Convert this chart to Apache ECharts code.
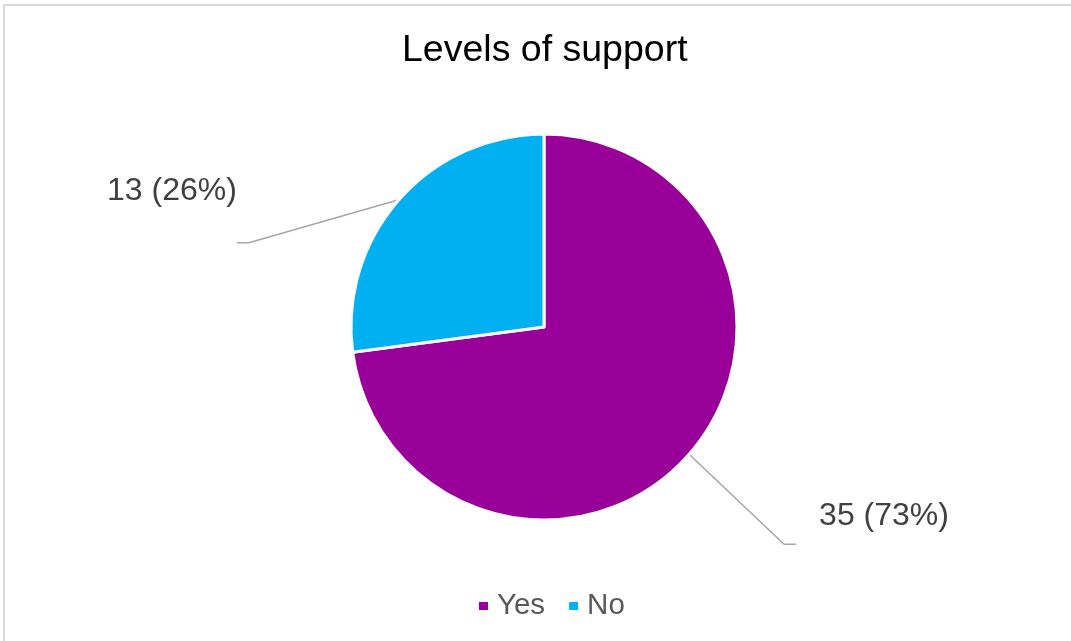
<!DOCTYPE html>
<html>
<head>
<meta charset="utf-8">
<title>Levels of support</title>
<script src="https://cdn.jsdelivr.net/npm/echarts@6/dist/echarts.min.js"></script>
<style>
  html, body { margin: 0; padding: 0; background: #ffffff; }
  #chart { width: 1071px; height: 641px; }
</style>
</head>
<body>
<div id="chart"></div>
<script>
// Survey answers
const categories = ['Yes', 'No'];
const counts = [35, 13];
const percentText = ['73%', '26%'];
const sliceColors = ['#990099', '#00B0F0'];

const FONT = '"Liberation Sans", Arial, sans-serif';

// Leader-line shape per slice: elbow offset from the slice edge, then a short horizontal run
const leader = [
  { elbow: [95, 90], run: 12, text: [23, -28], align: 'left' },
  { elbow: [-150, 43], run: -12, text: [0, -52], align: 'right' }
];

const chart = echarts.init(document.getElementById('chart'), null, { renderer: 'canvas' });

chart.setOption({
  backgroundColor: '#ffffff',
  animation: false,
  title: {
    text: 'Levels of support',
    left: 402,
    top: 32,
    padding: 0,
    textStyle: { fontFamily: FONT, fontSize: 37.5, fontWeight: 'normal', color: '#000000' }
  },
  legend: {
    bottom: 20,
    left: 477,
    padding: 0,
    icon: 'rect',
    itemWidth: 11,
    itemHeight: 10,
    itemGap: 22,
    data: categories,
    textStyle: { fontFamily: FONT, fontSize: 29.5, color: '#595959', padding: [0, 0, 0, 3] }
  },
  graphic: [{
    type: 'rect',
    silent: true,
    shape: { x: 4, y: 5, width: 1200, height: 800 },
    style: { fill: 'none', stroke: '#d9d9d9', lineWidth: 2 }
  }],
  series: [{
    type: 'pie',
    center: [544, 327],
    radius: 193,
    startAngle: 90,
    clockwise: true,
    color: sliceColors,
    itemStyle: { borderColor: '#ffffff', borderWidth: 3 },
    data: categories.map((name, i) => ({ name, value: counts[i] })),
    label: {
      show: true,
      fontFamily: FONT,
      fontSize: 32,
      color: '#404040',
      formatter: p => `${p.value} (${percentText[p.dataIndex]})`
    },
    labelLine: {
      show: true,
      length: 20,
      length2: 10,
      smooth: false,
      lineStyle: { color: '#a6a6a6', width: 1.5 }
    },
    labelLayout: function (params) {
      const cfg = leader[params.dataIndex];
      const start = params.labelLinePoints[0];
      const elbow = [start[0] + cfg.elbow[0], start[1] + cfg.elbow[1]];
      const end = [elbow[0] + cfg.run, elbow[1]];
      return {
        x: end[0] + cfg.text[0],
        y: end[1] + cfg.text[1],
        align: cfg.align,
        verticalAlign: 'middle',
        labelLinePoints: [start, elbow, end]
      };
    }
  }]
});
</script>
</body>
</html>
